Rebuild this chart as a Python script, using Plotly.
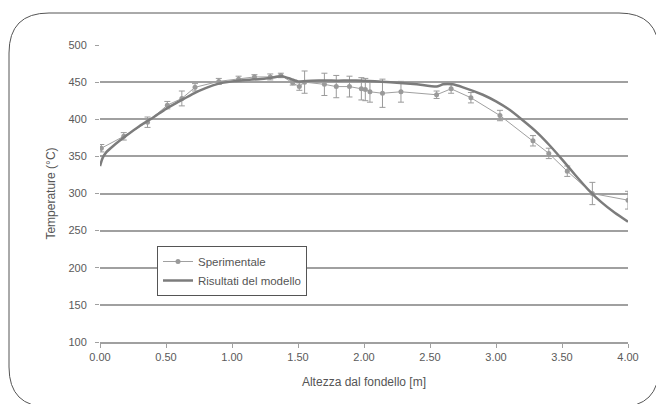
import plotly.graph_objects as go

# Experimental data (Sperimentale)
exp_x = [0.01, 0.18, 0.36, 0.51, 0.62, 0.72, 0.90, 1.05, 1.17, 1.29, 1.37, 1.46, 1.51, 1.55,
         1.70, 1.79, 1.89, 1.98, 2.01, 2.045, 2.14, 2.28, 2.55, 2.66, 2.81, 3.03, 3.28, 3.40,
         3.54, 3.73, 4.00]
exp_y = [361, 377, 396, 419, 428, 443, 451, 454, 457, 457, 459, 449, 444, 450,
         447, 444, 444, 441, 440, 437, 435, 437, 433, 441, 429, 405, 371, 354,
         330, 300, 291]
exp_err = [5, 5, 7, 5, 10, 5, 4, 4, 3, 4, 3, 3, 5, 15,
           15, 15, 14, 15, 15, 14, 19, 14, 5, 6, 7, 7, 7, 7,
           7, 15, 12]

# Model results (Risultati del modello)
mod_x = [0.00, 0.02, 0.05, 0.10, 0.20, 0.30, 0.40, 0.50, 0.60, 0.70, 0.80, 0.90, 1.00,
         1.10, 1.20, 1.30, 1.38, 1.45, 1.50, 1.60, 1.80, 2.00, 2.20, 2.40, 2.55, 2.60,
         2.67, 2.75, 2.90, 3.00, 3.10, 3.20, 3.30, 3.40, 3.50, 3.60, 3.70, 3.80, 3.90, 4.00]
mod_y = [337, 348, 356, 364, 378, 391, 402, 414, 424, 434, 442, 448, 451,
         453, 454, 456, 458, 454, 451, 452, 452, 452, 450, 447, 444, 447,
         447, 443, 433, 424, 413, 399, 384, 366, 346, 325, 305, 288, 274, 262]

x_ticks = [0.0, 0.5, 1.0, 1.5, 2.0, 2.5, 3.0, 3.5, 4.0]
x_ticklabels = ["0.00", "0.50", "1.00", "1.50", "2.00", "2.50", "3.00", "3.50", "4.00"]
y_ticks = [100, 150, 200, 250, 300, 350, 400, 450, 500]

OFF = 8  # page body margin
W, H = 664 - OFF, 404 - OFF
L, R, T, B = 100, 628, 45, 342  # plot area in page pixels

fig = go.Figure()
fig.add_trace(go.Scatter(
    x=exp_x, y=exp_y, mode="lines+markers", name="Sperimentale",
    line=dict(color="#a0a0a0", width=1),
    marker=dict(color="#9a9a9a", size=5),
    error_y=dict(type="data", array=exp_err, visible=True, color="#9a9a9a",
                 thickness=1, width=3),
))
fig.add_trace(go.Scatter(
    x=mod_x, y=mod_y, mode="lines", name="Risultati del modello",
    line=dict(color="#7c7c7c", width=2.5, shape="spline", smoothing=0.5),
))


def px(xp):
    return (xp - L) / (R - L)


def py(yp):
    return (B - yp) / (B - T)


# rounded frame around the chart
fl, ft, fr, fb, rad = 9, 13, 659, 407, 40
path = (f"M {px(fl+rad)},{py(ft)} L {px(fr-rad)},{py(ft)} "
        f"Q {px(fr)},{py(ft)} {px(fr)},{py(ft+rad)} "
        f"L {px(fr)},{py(fb-rad)} Q {px(fr)},{py(fb)} {px(fr-rad)},{py(fb)} "
        f"L {px(fl+rad)},{py(fb)} Q {px(fl)},{py(fb)} {px(fl)},{py(fb-rad)} "
        f"L {px(fl)},{py(ft+rad)} Q {px(fl)},{py(ft)} {px(fl+rad)},{py(ft)} Z")
fig.add_shape(type="path", path=path, xref="paper", yref="paper",
              line=dict(color="#555555", width=1))

family = "Liberation Sans, Arial, sans-serif"
font = dict(family=family, size=10, color="#555555")
tickfont = dict(family=family, size=11, color="#5a5a5a")

fig.update_layout(
    width=W, height=H,
    margin=dict(l=L - OFF, r=664 - R, t=T - OFF, b=404 - B),
    paper_bgcolor="white", plot_bgcolor="white",
    font=font,
    showlegend=True,
    legend=dict(x=px(157), y=py(246), xanchor="left", yanchor="top",
                bgcolor="white", bordercolor="#555555", borderwidth=1,
                font=dict(family=family, size=11.5, color="#555555"),
                itemwidth=30, tracegroupgap=2),
    xaxis=dict(range=[0, 4], tickvals=x_ticks, ticktext=x_ticklabels,
               tickfont=tickfont,
               showgrid=False, zeroline=False, showline=True, linecolor="#a0a0a0",
               linewidth=1.5, ticks="outside", ticklen=4, tickcolor="#a0a0a0",
               title=dict(text="Altezza dal fondello [m]", standoff=16),
               fixedrange=True),
    yaxis=dict(range=[100, 500], tickvals=y_ticks, showgrid=True,
               tickfont=tickfont,
               gridcolor="#a0a0a0", gridwidth=2, zeroline=False, showline=False,
               ticks="outside", ticklen=4, tickcolor="#a0a0a0",
               ticklabelstandoff=6,
               title=dict(text="Temperature (°C)", standoff=10),
               fixedrange=True),
)

fig.write_html("out.html")
